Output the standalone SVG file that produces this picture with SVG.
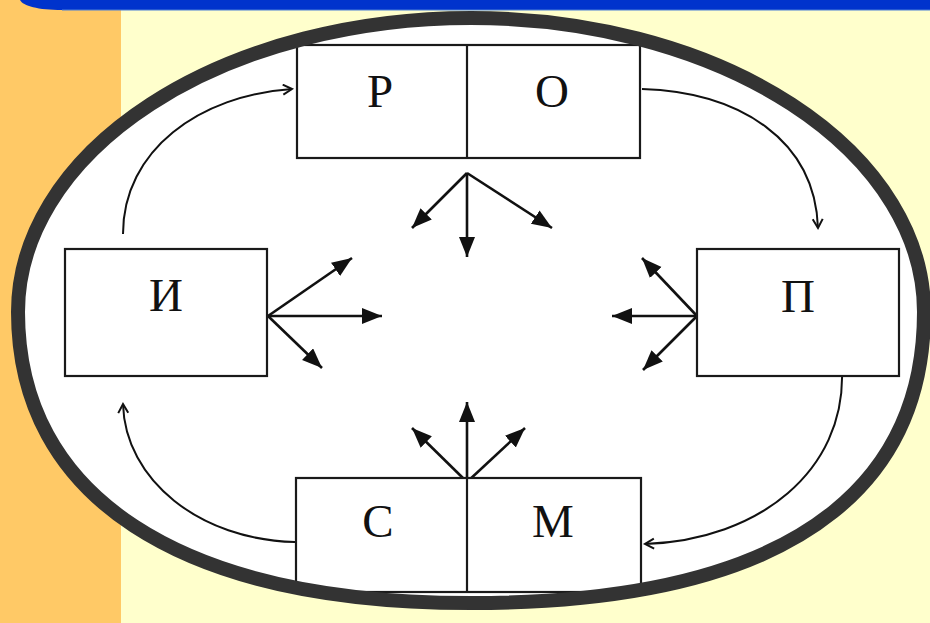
<svg xmlns="http://www.w3.org/2000/svg" width="930" height="623" viewBox="0 0 930 623">
<style>
.box{fill:#fff;stroke:#1a1a1a;stroke-width:2.2}
.lbl{font-family:"Liberation Serif","Times New Roman",serif;font-size:47px;fill:#111;text-anchor:middle}
.cur{fill:none;stroke:#111;stroke-width:2}
.ray{fill:none;stroke:#111;stroke-width:2.6}
.oval{stroke:#333;stroke-width:14}
</style>
<defs>
<marker id="tri" markerUnits="userSpaceOnUse" markerWidth="22" markerHeight="18" refX="20" refY="8" orient="auto">
<path d="M0,0 L20,8 L0,16 Z" fill="#111"/>
</marker>
<marker id="chev" markerUnits="userSpaceOnUse" markerWidth="14" markerHeight="14" refX="10" refY="6" orient="auto">
<path d="M1,1 L10,6 L1,11" fill="none" stroke="#111" stroke-width="2"/>
</marker>
<path id="ovalPath" d="M18,312 A453,294 0 0 1 924,312 C924,457 833,603 471,603 C177,603 18,495 18,312 Z"/>
</defs>
<rect x="0" y="0" width="121" height="623" fill="#FFC966"/>
<rect x="121" y="0" width="809" height="623" fill="#FFFFCC"/>
<path d="M20,0 L930,0 L930,10 L62,10 C38,10 23,6 20,0 Z" fill="#0033CC"/>
<line x1="62" y1="10" x2="930" y2="10" stroke="#4a7fd6" stroke-width="1"/>
<use href="#ovalPath" fill="#fff"/>
<g id="connectors">
<path class="cur" d="M123,234 C123,150 200,95 292,89" marker-end="url(#chev)"/>
<path class="cur" d="M642,89 C740,92 815,140 818,228" marker-end="url(#chev)"/>
<path class="cur" d="M842,372 C845,470 760,540 645,544" marker-end="url(#chev)"/>
<path class="cur" d="M295,542 C200,540 125,480 123,404" marker-end="url(#chev)"/>
<path class="ray" d="M467,173 L412,228" marker-end="url(#tri)"/>
<path class="ray" d="M467,173 L467,257" marker-end="url(#tri)"/>
<path class="ray" d="M467,173 L552,228" marker-end="url(#tri)"/>
<path class="ray" d="M268,316 L352,258" marker-end="url(#tri)"/>
<path class="ray" d="M268,316 L382,316" marker-end="url(#tri)"/>
<path class="ray" d="M268,316 L322,368" marker-end="url(#tri)"/>
<path class="ray" d="M697,316 L642,258" marker-end="url(#tri)"/>
<path class="ray" d="M697,316 L612,316" marker-end="url(#tri)"/>
<path class="ray" d="M697,316 L643,370" marker-end="url(#tri)"/>
<path class="ray" d="M467,482 L412,428" marker-end="url(#tri)"/>
<path class="ray" d="M467,482 L467,402" marker-end="url(#tri)"/>
<path class="ray" d="M467,482 L525,428" marker-end="url(#tri)"/>
</g>
<g id="node-ro">
<rect class="box" x="297" y="45" width="343" height="113"/>
<line x1="467" y1="45" x2="467" y2="158" stroke="#1a1a1a" stroke-width="2.2"/>
<text class="lbl" x="380" y="107">Р</text>
<text class="lbl" x="552" y="107">О</text>
</g>
<g id="node-i">
<rect class="box" x="65" y="249" width="202" height="127"/>
<text class="lbl" x="166" y="311">И</text>
</g>
<g id="node-p">
<rect class="box" x="697" y="249" width="202" height="127"/>
<text class="lbl" x="798" y="312">П</text>
</g>
<g id="node-sm">
<rect class="box" x="296" y="478" width="345" height="114"/>
<line x1="467" y1="478" x2="467" y2="592" stroke="#1a1a1a" stroke-width="2.2"/>
<text class="lbl" x="378" y="537">С</text>
<text class="lbl" x="553" y="537">М</text>
</g>
<use href="#ovalPath" fill="none" class="oval"/>
</svg>
